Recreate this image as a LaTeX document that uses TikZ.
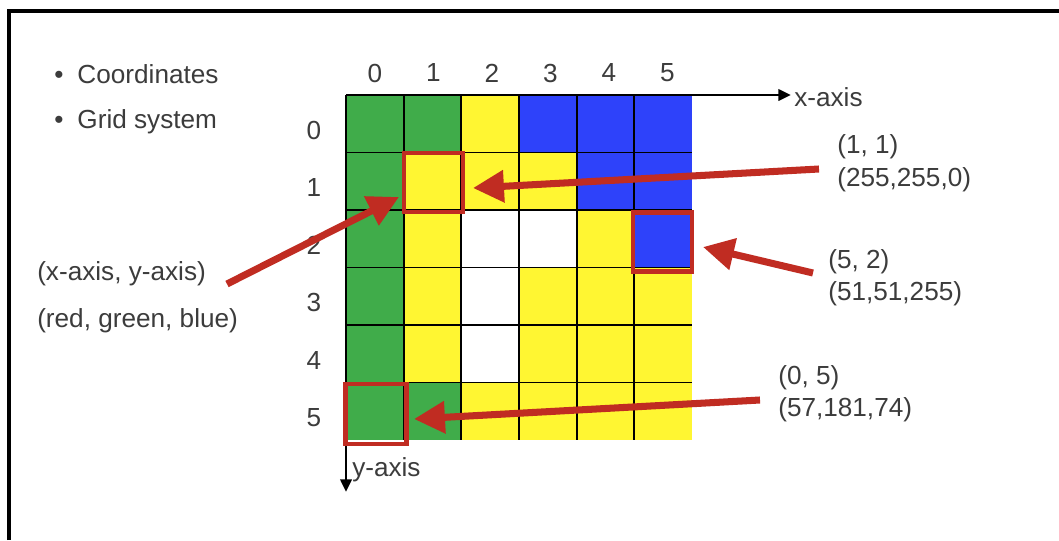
\documentclass[tikz,border=0pt]{standalone}
\usepackage{fontspec}
\setmainfont{Liberation Sans}
\usetikzlibrary{arrows.meta}
\definecolor{cgreen}{RGB}{64,172,74}
\definecolor{cyellow}{RGB}{255,246,50}
\definecolor{cblue}{RGB}{46,66,250}
\definecolor{cred}{RGB}{192,44,34}
\definecolor{ctext}{RGB}{60,60,60}
\begin{document}
\begin{tikzpicture}[x=0.025cm,y=-0.025cm,
  lbl/.style={text=ctext,font=\fontsize{18.6}{22}\selectfont,inner sep=0pt},
  redarrow/.style={draw=cred,line width=5pt,-{Triangle[length=22pt,width=22pt]}},
  redbox/.style={draw=cred,line width=3pt},
  axisline/.style={line width=2pt,-{Triangle[length=9pt,width=8pt]}},
  gridline/.style={line width=1.3pt,black}]
\useasboundingbox (0,0) rectangle (1059,540);
\fill[white] (0,0) rectangle (1059,540);
\draw[line width=2.2pt] (9,540) -- (9,11) -- (1059,11);

% cells
\foreach \i/\j/\col in {
  0/0/cgreen,1/0/cgreen,2/0/cyellow,3/0/cblue,4/0/cblue,5/0/cblue,
  0/1/cgreen,1/1/cyellow,2/1/cyellow,3/1/cyellow,4/1/cblue,5/1/cblue,
  0/2/cgreen,1/2/cyellow,2/2/white,3/2/white,4/2/cyellow,5/2/cblue,
  0/3/cgreen,1/3/cyellow,2/3/white,3/3/cyellow,4/3/cyellow,5/3/cyellow,
  0/4/cgreen,1/4/cyellow,2/4/white,3/4/cyellow,4/4/cyellow,5/4/cyellow,
  0/5/cgreen,1/5/cgreen,2/5/cyellow,3/5/cyellow,4/5/cyellow,5/5/cyellow}
  \fill[\col] ({346+\i*57.67},{95+\j*57.5}) rectangle ++(57.67,57.5);
\foreach \k in {1,...,5} {
  \draw[gridline] ({346+\k*57.67},95) -- ({346+\k*57.67},440);
  \draw[gridline] (346,{95+\k*57.5}) -- (692,{95+\k*57.5});
}

% axes
\coordinate (origin) at (346,95);
\coordinate (xtip) at (791,95);
\coordinate (ytip) at (346,492);
\draw[axisline] (origin) -- (xtip);
\draw[axisline] (origin) -- (ytip);
\node[lbl,anchor=west] (xlab) at (794,97) {x-axis};
\node[lbl,anchor=west] (ylab) at (352,470) {y-axis};

% column / row numbers
\foreach \k in {0,...,5} {
  \node[lbl] (col\k) at ({375+\k*58.5},73) {\k};
  \node[lbl] (row\k) at (314,{130+\k*57.5}) {\k};
}

% bullets
\node[lbl,anchor=west] (b1) at (54,74) {\textbullet\hskip 10pt Coordinates};
\node[lbl,anchor=west] (b2) at (54,122) {\textbullet\hskip 10pt Grid system};

% left labels
\node[lbl,anchor=west] (xy) at (37,274) {(x-axis, y-axis)};
\node[lbl,anchor=west] (rgb) at (37,321) {(red, green, blue)};

% right labels
\node[lbl,anchor=west] (l11a) at (837,147) {(1, 1)};
\node[lbl,anchor=west] (l11b) at (837,180) {(255,255,0)};
\node[lbl,anchor=west] (l52a) at (828,262) {(5, 2)};
\node[lbl,anchor=west] (l52b) at (828,294) {(51,51,255)};
\node[lbl,anchor=west] (l05a) at (778,378) {(0, 5)};
\node[lbl,anchor=west] (l05b) at (778,410) {(57,181,74)};

% red boxes
\node[redbox,minimum width=59*0.025cm,minimum height=59*0.025cm,inner sep=0pt] (box11) at (433.5,182.5) {};
\node[redbox,minimum width=59*0.025cm,minimum height=59*0.025cm,inner sep=0pt] (box52) at (662.5,242) {};
\node[redbox,minimum width=61*0.025cm,minimum height=60*0.025cm,inner sep=0pt] (box05) at (376,414) {};

% arrows
\coordinate (t11) at (819,169);
\coordinate (h11) at (473,188);
\coordinate (t52) at (813,273);
\coordinate (h52) at (703,247);
\coordinate (t05) at (760,400);
\coordinate (h05) at (414,419);
\coordinate (txy) at (227,284);
\coordinate (hxy) at (399,197);
\draw[redarrow] (t11) -- (h11);
\draw[redarrow] (t52) -- (h52);
\draw[redarrow] (t05) -- (h05);
\draw[redarrow] (txy) -- (hxy);
\end{tikzpicture}
\end{document}
